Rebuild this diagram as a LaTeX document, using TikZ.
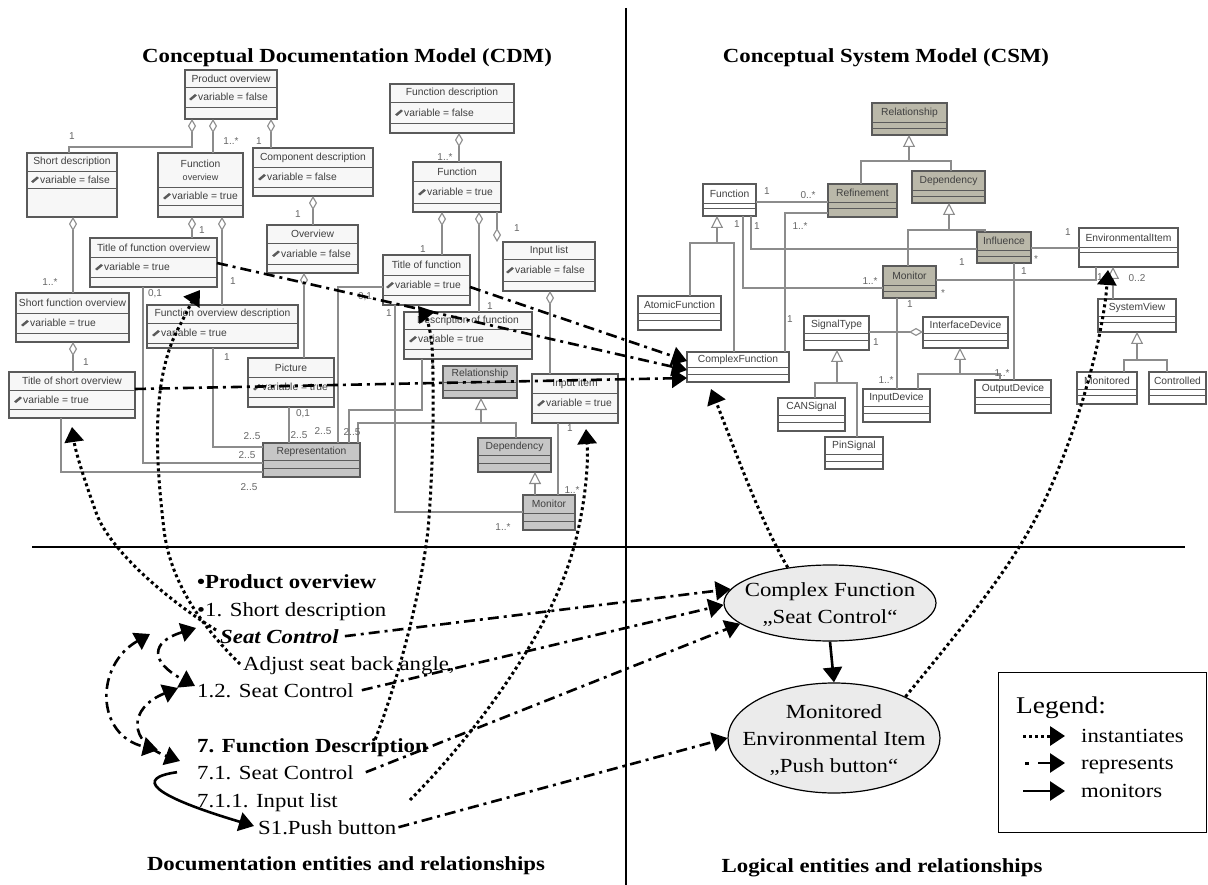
\documentclass[tikz,border=0pt]{standalone}
\usepackage{fontspec}
\setmainfont{Liberation Serif}
\newfontfamily\umlfont{Liberation Sans}
\usetikzlibrary{arrows.meta,fit,shapes.geometric}
\definecolor{umlline}{HTML}{5A5A5A}
\definecolor{assocc}{HTML}{8C8C8C}
\definecolor{grayA}{HTML}{C6C6C6}
\definecolor{grayB}{HTML}{BAB8A9}
\definecolor{boxbg}{HTML}{F7F7F7}
\definecolor{ellfill}{HTML}{EBEBEB}
\newcommand{\sx}[1]{\scalebox{1.14}[1]{#1}}
\tikzset{
  umlbox/.style={draw=umlline, line width=1.1pt, inner sep=0pt, outer sep=0pt},
  umlsep/.style={draw=umlline, line width=0.9pt},
  umltext/.style={font=\umlfont\fontsize{10.3}{12}\selectfont, text=black!75, inner sep=0pt},
  mult/.style={font=\umlfont\fontsize{10}{12}\selectfont, text=black!60, inner sep=0pt},
  assoc/.style={draw=assocc, line width=1.1pt},
  agg/.style={assoc, arrows={Diamond[fill=white,length=14pt,width=8pt]-}},
  gen/.style={assoc, arrows={-Triangle[fill=white,length=12pt,width=12pt]}},
  inst/.style={line width=3pt, dash pattern=on 3pt off 3pt, arrows={-Triangle[length=15pt,width=19pt]}},
  rep/.style={line width=2.6pt, dash pattern=on 11pt off 5pt on 3pt off 5pt, arrows={-Triangle[length=15pt,width=19pt]}},
  repboth/.style={line width=2.6pt, dash pattern=on 11pt off 5pt on 3pt off 5pt, arrows={Triangle[length=15pt,width=19pt]-Triangle[length=15pt,width=19pt]}},
  mon/.style={line width=2.6pt, arrows={-Triangle[length=15pt,width=19pt]}},
  big/.style={font=\fontsize{20}{27}\selectfont, inner sep=0pt},
  divider/.style={line width=1.3pt},
  ell/.style={ellipse, draw, line width=1.2pt, fill=ellfill, inner sep=0pt}
}
\newcommand{\umlc}[9]{%
  \node[umlbox, fill=#8, fit={(#2,#3)(#4,#5)}] (#1) {};
  \draw[umlsep] (#2,#6) -- (#4,#6);
  \draw[umlsep] (#2,#7) -- (#4,#7);
  \node[umltext] (#1-t) at ({(#2+#4)/2},{(#3+#6)/2}) {#9};
}
\newcommand{\umla}[4]{%
  \fill[umlline] (#2,#3) ++(0,2) -- ++(2,1.5) -- ++(6,-5) -- ++(-2,-1.5) -- cycle;
  \node[umltext, anchor=west] (#1) at ({#2+9},#3) {#4};
}
\newcommand{\ml}[4]{\node[mult] (#1) at (#2,#3) {#4};}
\begin{document}
\begin{tikzpicture}[x=1pt,y=-1pt]
\useasboundingbox (0,0) rectangle (1208,885);
\fill[white] (0,0) rectangle (1208,885);

% ---------- titles
\node[big] (T1) at (347,58) {\sx{\textbf{Conceptual Documentation Model (CDM)}}};
\node[big] (T2) at (886,58) {\sx{\textbf{Conceptual System Model (CSM)}}};
\node[big] (T3) at (346,866) {\sx{\textbf{Documentation entities and relationships}}};
\node[big] (T4) at (882,868) {\sx{\textbf{Logical entities and relationships}}};

% ---------- dividers
\coordinate (vtop) at (626,8); \coordinate (vbot) at (626,885);
\draw[divider] (vtop) -- (vbot);
\coordinate (hl) at (32,547); \coordinate (hr) at (1185,547);
\draw[divider] (hl) -- (hr);

% ---------- CDM classes
\umlc{PO}{185}{70}{277}{119}{87}{107}{boxbg}{Product overview}
\umla{PO-a}{189}{97}{variable = false}
\umlc{SD}{27}{153}{117}{217}{171}{188}{boxbg}{Short description}
\umla{SD-a}{31}{179.5}{variable = false}
\umlc{FO}{158}{153}{243}{217}{187}{205}{boxbg}{}
\node[umltext] (FO-t1) at (200.5,164) {Function};
\node[umltext, font=\umlfont\fontsize{9}{10}\selectfont] (FO-t2) at (200.5,177) {overview};
\umla{FO-a}{163}{196}{variable = true}
\umlc{CD}{253}{148}{373}{196}{167}{187}{boxbg}{Component description}
\umla{CD-a}{258}{177}{variable = false}
\umlc{TFO}{90}{238}{217}{287}{257}{277}{boxbg}{Title of function overview}
\umla{TFO-a}{95}{267}{variable = true}
\umlc{OV}{267}{225}{358}{273}{243}{264}{boxbg}{Overview}
\umla{OV-a}{272}{253.5}{variable = false}
\umlc{SFO}{16}{293}{129}{342}{313}{333}{boxbg}{Short function overview}
\umla{SFO-a}{21}{323}{variable = true}
\umlc{FOD}{147}{305}{298}{348}{323}{343}{boxbg}{Function overview description}
\umla{FOD-a}{152}{333}{variable = true}
\umlc{TSO}{9}{372}{135}{418}{390}{409}{boxbg}{Title of short overview}
\umla{TSO-a}{14}{399.5}{variable = true}
\umlc{PIC}{248}{358}{334}{407}{377}{397}{boxbg}{Picture}
\umla{PIC-a}{253}{387}{variable = true}
\umlc{REP}{263}{443}{360}{477}{460}{468}{grayA}{Representation}
\umlc{FD}{390}{84}{514}{133}{102}{123}{boxbg}{Function description}
\umla{FD-a}{395}{112.5}{variable = false}
\umlc{FN}{413}{162}{501}{212}{181}{203}{boxbg}{Function}
\umla{FN-a}{418}{192}{variable = true}
\umlc{TF}{383}{255}{470}{305}{275}{295}{boxbg}{Title of function}
\umla{TF-a}{386}{285}{variable = true}
\umlc{IL}{503}{242}{595}{291}{259}{281}{boxbg}{Input list}
\umla{IL-a}{506}{270}{variable = false}
\umlc{DF}{404}{312}{532}{359}{329}{349}{boxbg}{Description of function}
\umla{DF-a}{409}{339}{variable = true}
\umlc{REL}{443}{366}{517}{398}{382}{390}{grayA}{Relationship}
\umlc{II}{532}{374}{618}{423}{393}{413}{boxbg}{Input item}
\umla{II-a}{537}{403}{variable = true}
\umlc{DEP}{478}{438}{551}{472}{455}{463}{grayA}{Dependency}
\umlc{MON}{523}{495}{575}{530}{513}{521}{grayA}{Monitor}

% ---------- CDM connectors
\draw[agg] (192,0 |- PO.south) -- (192,147) -| (69,0 |- SD.north);
\draw[agg] (213,0 |- PO.south) -- (213,0 |- FO.north);
\draw[agg] (271,0 |- PO.south) -- (271,0 |- CD.north);
\draw[agg] (73,0 |- SD.south) -- (73,0 |- SFO.north);
\draw[agg] (192,0 |- FO.south) -- (192,0 |- TFO.north);
\draw[agg] (222,0 |- FO.south) -- (222,0 |- FOD.north);
\draw[agg] (313,0 |- CD.south) -- (313,0 |- OV.north);
\draw[agg] (304,0 |- OV.south) -- (304,0 |- PIC.north);
\draw[agg] (73,0 |- SFO.south) -- (73,0 |- TSO.north);
\draw[assoc] (61,0 |- TSO.south) |- (REP.west |- 0,472);
\draw[assoc] (143,0 |- TFO.south) |- (REP.west |- 0,463);
\draw[assoc] (213,0 |- FOD.south) |- (REP.west |- 0,447);
\draw[assoc] (289,0 |- PIC.south) -- (289,0 |- REP.north);
\draw[assoc] (TF.west |- 0,287) -| (338,0 |- REP.north);
\draw[assoc] (422,0 |- DF.south) |- (349,410) -- (349,0 |- REP.north);
\draw[assoc] (358,0 |- REP.north) |- (516,423) -- (516,0 |- DEP.north);
\draw[gen] (481,423) -- (481,0 |- REL.south);
\draw[gen] (535,0 |- MON.north) -- (535,0 |- DEP.south);
\draw[assoc] (395,0 |- TF.south) |- (MON.west |- 0,512);
\draw[assoc] (558,0 |- II.south) -- (558,0 |- MON.north);
\draw[agg] (459,0 |- FD.south) -- (459,0 |- FN.north);
\draw[agg] (442,0 |- FN.south) -- (442,0 |- TF.north);
\draw[agg] (479,0 |- FN.south) -- (479,0 |- DF.north);
\draw[agg] (497,0 |- IL.north) -- (497,0 |- FN.south);
\draw[agg] (550,0 |- IL.south) -- (550,0 |- II.north);

% CDM multiplicities
\ml{m1}{72}{136}{1}
\ml{m2}{231}{141}{1..*}
\ml{m3}{259}{141}{1}
\ml{m4}{50}{282}{1..*}
\ml{m5}{202}{230}{1}
\ml{m6}{233}{281}{1}
\ml{m7}{298}{214}{1}
\ml{m8}{86}{362}{1}
\ml{m9}{155}{294}{0,1}
\ml{m10}{227}{357}{1}
\ml{m11}{303}{414}{0,1}
\ml{m12}{252}{436}{2..5}
\ml{m13}{247}{455}{2..5}
\ml{m14}{249}{487}{2..5}
\ml{m15}{299}{435}{2..5}
\ml{m16}{323}{431}{2..5}
\ml{m17}{352}{432}{2..5}
\ml{m18}{365}{297}{0,1}
\ml{m19}{389}{313}{1}
\ml{m20}{433}{366}{1}
\ml{m21}{503}{527}{1..*}
\ml{m22}{570}{428}{1}
\ml{m23}{572}{490}{1..*}
\ml{m24}{445}{157}{1..*}
\ml{m25}{423}{249}{1}
\ml{m26}{490}{306}{1}
\ml{m27}{517}{228}{1}

% ---------- CSM classes
\umlc{CREL}{872}{103}{947}{135}{122}{128}{grayB}{Relationship}
\umlc{REF}{828}{184}{897}{217}{202}{208}{grayB}{Refinement}
\umlc{CDEP}{912}{171}{985}{203}{190}{196}{grayB}{Dependency}
\umlc{CFN}{703}{184}{756}{216}{203}{208}{white}{Function}
\umlc{INF}{977}{232}{1031}{263}{250}{256}{grayB}{Influence}
\umlc{CMON}{883}{266}{936}{298}{285}{291}{grayB}{Monitor}
\umlc{ENV}{1079}{228}{1178}{267}{247}{252}{white}{EnvironmentalItem}
\umlc{AF}{638}{296}{721}{330}{313}{320}{white}{AtomicFunction}
\umlc{CF}{687}{352}{789}{382}{367}{374}{white}{ComplexFunction}
\umlc{ST}{804}{316}{869}{350}{333}{340}{white}{SignalType}
\umlc{ID}{923}{317}{1008}{348}{333}{340}{white}{InterfaceDevice}
\umlc{SV}{1098}{299}{1176}{332}{316}{322}{white}{SystemView}
\umlc{MTD}{1077}{372}{1137}{404}{389}{395}{white}{Monitored}
\umlc{CTL}{1149}{372}{1206}{404}{389}{395}{white}{Controlled}
\umlc{INDV}{863}{389}{930}{422}{406}{413}{white}{InputDevice}
\umlc{OD}{975}{380}{1051}{413}{397}{404}{white}{OutputDevice}
\umlc{CAN}{778}{398}{845}{431}{415}{422}{white}{CANSignal}
\umlc{PIN}{825}{437}{883}{469}{454}{461}{white}{PinSignal}

% ---------- CSM connectors
\draw[assoc] (861,0 |- REF.north) |- (951,161) -- (951,0 |- CDEP.north);
\draw[gen] (909,161) -- (909,0 |- CREL.south);
\draw[assoc] (CFN.east |- 0,202) -- (REF.west |- 0,202);
\draw[assoc] (690,0 |- AF.north) |- (734,243) -- (734,0 |- CF.north);
\draw[gen] (717,243) -- (717,0 |- CFN.south);
\draw[assoc] (751,0 |- CFN.south) |- (INF.west |- 0,249);
\draw[assoc] (743,0 |- CFN.south) |- (CMON.west |- 0,288);
\draw[assoc] (REF.west |- 0,213) -| (785,0 |- CF.north);
\draw[assoc] (908,0 |- CMON.north) |- (985,230) -- (985,0 |- INF.north);
\draw[gen] (949,230) -- (949,0 |- CDEP.south);
\draw[assoc] (INF.east |- 0,248) -- (ENV.west |- 0,248);
\draw[assoc] (1014,0 |- INF.south) -- (1014,0 |- OD.north);
\draw[assoc] (CMON.east |- 0,280) -| (1096,0 |- ENV.south);
\draw[assoc] (897,0 |- CMON.south) -- (897,0 |- INDV.north);
\draw[assoc, arrows={-Diamond[fill=white,length=14pt,width=8pt]}] (ST.east |- 0,332) -- (ID.west |- 0,332);
\draw[gen] (1113,0 |- SV.north) -- (1113,0 |- ENV.south);
\draw[assoc] (1124,0 |- MTD.north) |- (1167,360) -- (1167,0 |- CTL.north);
\draw[gen] (1137,360) -- (1137,0 |- SV.south);
\draw[assoc] (918,0 |- INDV.north) |- (1000,374) -- (1000,0 |- OD.north);
\draw[gen] (960,374) -- (960,0 |- ID.south);
\draw[assoc] (815,0 |- CAN.north) |- (857,383) -- (857,0 |- PIN.north);
\draw[gen] (837,383) -- (837,0 |- ST.south);

% CSM multiplicities
\ml{n1}{767}{191}{1}
\ml{n2}{808}{195}{0..*}
\ml{n3}{737}{224}{1}
\ml{n4}{757}{226}{1}
\ml{n5}{800}{226}{1..*}
\ml{n6}{790}{319}{1}
\ml{n7}{870}{281}{1..*}
\ml{n8}{962}{262}{1}
\ml{n9}{943}{293}{*}
\ml{n10}{910}{304}{1}
\ml{n11}{886}{380}{1..*}
\ml{n12}{1068}{232}{1}
\ml{n13}{1036}{259}{*}
\ml{n14}{1024}{271}{1}
\ml{n15}{1002}{373}{1..*}
\ml{n16}{1100}{277}{1}
\ml{n17}{1137}{278}{0..2}
\ml{n18}{876}{342}{1}

% ---------- lower left texts
\node[big, anchor=base west] (t1) at (197,588) {\sx{\textbf{•Product overview}}};
\node[big, anchor=base west] (t2) at (197,616) {\sx{•1. Short description}};
\node[big, anchor=base west] (t3) at (220,643) {\sx{\textbf{\textit{Seat Control}}}};
\node[big, anchor=base west] (t4) at (243,670) {\sx{Adjust seat back angle,}};
\node[big, anchor=base west] (t5) at (197,697) {\sx{1.2. Seat Control}};
\node[big, anchor=base west] (t6) at (197,752) {\sx{\textbf{7. Function Description}}};
\node[big, anchor=base west] (t7) at (197,779) {\sx{7.1. Seat Control}};
\node[big, anchor=base west] (t8) at (197,807) {\sx{7.1.1. Input list}};
\node[big, anchor=base west] (t9) at (258,834) {\sx{S1.Push button}};

% ---------- ellipses
\node[ell, minimum width=212, minimum height=76] (CFE) at (830,603) {};
\node[big, align=center] (CFEt) at (830,605) {\sx{Complex Function}\\\sx{„Seat Control“}};
\node[ell, minimum width=212, minimum height=110] (MEI) at (834,738) {};
\node[big, align=center] (MEIt) at (834,740) {\sx{Monitored}\\\sx{Environmental Item}\\\sx{„Push button“}};

% ---------- legend
\node[draw, line width=1.3pt, minimum width=208, minimum height=160, anchor=north west, inner sep=0pt] (LG) at (998,672) {};
\node[anchor=base west, font=\fontsize{24}{28}\selectfont, inner sep=0pt] (LGt) at (1016,713) {\sx{Legend:}};
\coordinate (li1) at (1023,736); \coordinate (li2) at (1065,736);
\coordinate (lr1) at (1027,763); \coordinate (lr2) at (1065,763);
\coordinate (lm1) at (1023,791); \coordinate (lm2) at (1065,791);
\draw[inst] (li1) -- (li2);
\draw[line width=2.6pt, arrows={-Triangle[length=15pt,width=19pt]}] (1038,763) -- (lr2);
\fill (1024.5,761.5) rectangle (1028.5,764.5);
\draw[mon] (lm1) -- (lm2);
\node[big, anchor=base west] (L1) at (1081,742) {\sx{instantiates}};
\node[big, anchor=base west] (L2) at (1081,769) {\sx{represents}};
\node[big, anchor=base west] (L3) at (1081,797) {\sx{monitors}};

% ---------- represents (upper)
\draw[rep] (TFO.east |- 0,263) -- (CF.west |- 0,370);
\draw[rep] (TF.east |- 0,287) -- (CF.west |- 0,361);
\draw[rep] (TSO.east |- 0,389) -- (CF.west |- 0,378);

% ---------- instantiates
\draw[inst] (216,630) .. controls (160,595) and (110,548) .. (97,515) .. controls (88,490) and (76,455) .. (72,427);
\draw[inst] (240,664) .. controls (200,625) and (170,580) .. (164,530) .. controls (157,470) and (150,390) .. (175,335) .. controls (185,315) and (193,300) .. (200,290);
\draw[inst] (373,745) .. controls (395,690) and (420,600) .. (428,530) .. controls (434,460) and (434,380) .. (432,345) .. controls (430,325) and (425,315) .. (418,306);
\draw[inst] (410,800) .. controls (470,740) and (545,640) .. (570,560) .. controls (583,520) and (589,470) .. (586,429);
\draw[inst] (CFE.140) .. controls (760,520) and (735,450) .. (711,389);
\draw[inst] (MEI.30) .. controls (960,630) and (1010,570) .. (1040,510) .. controls (1075,440) and (1103,340) .. (1108,270);

% ---------- represents (lower)
\draw[rep] ([xshift=6pt]t3.east) -- (CFE.172);
\draw[rep] ([xshift=8pt]t5.east) -- (CFE.181);
\draw[rep] ([xshift=12pt]t7.east) -- (CFE.193);
\draw[rep] ([xshift=2pt]t9.east) -- (MEI.west);
\draw[repboth] (196,628) .. controls (150,642) and (150,662) .. (195,686);
\draw[repboth] (178,688) .. controls (128,708) and (128,742) .. (180,761);
\draw[repboth] (150,634) .. controls (95,665) and (95,735) .. (158,750);

% ---------- monitors
\draw[mon] (CFE.south) -- (MEI.north);
\draw[mon] ([xshift=-20pt]t7.west) .. controls (135,778) and (150,795) .. (254,826);
\end{tikzpicture}
\end{document}
